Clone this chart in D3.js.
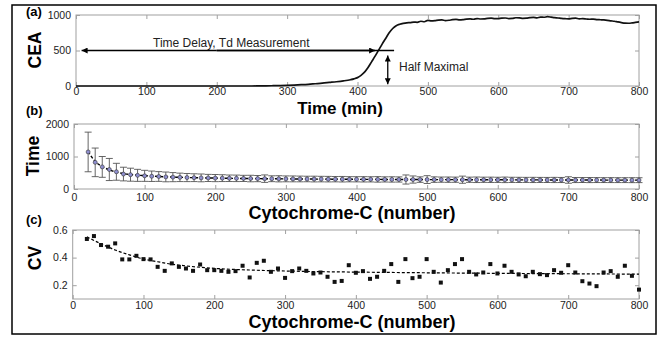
<!DOCTYPE html>
<html><head><meta charset="utf-8">
<script src="https://cdn.jsdelivr.net/npm/d3@7"></script>
<style>body{margin:0;background:#fff}svg{display:block}text{font-family:Arial,"Liberation Sans",sans-serif}</style>
</head><body><svg id="c" width="663" height="337"></svg>
<script>
// ---------- data ----------
const xTicks = [0,100,200,300,400,500,600,700,800];
const ceaYTicks = [0,500,1000];
const timeYTicks = [0,1000,2000];
const cvYTicks = [0.2,0.4,0.6];

const ceaTime = [0,10,20,30,40,50,60,70,80,90,100,110,120,130,140,150,160,170,180,190,200,210,220,230,240,250,260,270,280,290,300,310,320,330,340,350,360,370,380,390,395,400,405,410,415,420,425,430,435,440,445,450,455,
  460,465,470,475,480,485,490,495,500,505,510,515,520,525,530,535,540,545,550,555,560,565,570,575,580,585,590,595,600,605,610,615,620,625,630,635,640,645,650,655,660,665,670,675,680,685,690,695,700,705,710,715,720,725,730,735,740,745,750,755,760,765,770,775,780,785,790,795,800];
const ceaValue = [0,0,0,0,0,0,0,0,0,0,0,0,0,0,0,0,0,0,0,0,0,0,0,0,0,0,1,2,4,6,9,13,18,24,32,40,50,60,72,88,100,118,150,195,260,340,420,505,590,670,750,810,850,
  870,882,890,893,900,897,912,905,925,916,920,928,930,922,926,934,938,930,934,942,945,940,950,944,946,953,955,948,950,957,958,950,952,961,960,953,955,962,966,960,970,968,976,970,962,958,952,948,945,952,955,946,948,944,940,942,936,933,930,925,918,912,902,893,885,884,888,895,902];

const cytoX = [20,30,40,50,60,70,80,90,100,110,120,130,140,150,160,170,180,190,200,210,220,230,240,250,260,270,280,290,300,310,320,330,340,350,360,370,380,390,400,410,420,430,440,450,460,470,480,490,500,510,520,530,540,550,560,570,580,590,600,610,620,630,640,650,660,670,680,690,700,710,720,730,740,750,760,770,780,790,800];
const timeMean = [1140,820,680,600,530,460,440,420,405,392,385,372,365,358,352,348,342,340,336,334,330,328,326,322,320,318,316,314,312,311,309,308,306,305,303,302,301,300,299,298,297,296,295,294,293,292,291,290,290,289,288,287,286,286,285,284,284,283,282,282,281,280,280,279,279,278,278,277,277,276,276,275,275,274,274,273,273,272,272];
const timeSd = [610,440,320,340,260,210,200,185,170,160,150,150,140,130,125,120,120,110,110,105,100,100,95,100,95,115,90,95,90,90,88,85,88,85,85,82,85,80,80,82,80,85,80,82,80,140,110,85,120,85,80,82,80,110,80,85,80,82,80,85,80,80,78,80,78,78,80,78,100,78,76,78,76,75,76,75,75,76,75];
const timeFitX = [20,30,40,50,60,70,80,100,120,150,200,300,400,500,600,700,800];
const timeFit = [1150,850,690,590,520,475,445,410,385,360,335,312,298,290,283,277,272];

const cvValue = [0.535,0.556,0.491,0.479,0.503,0.387,0.387,0.413,0.389,0.387,0.333,0.304,0.358,0.333,0.321,0.304,0.350,0.309,0.309,0.304,0.297,0.302,0.341,0.256,0.362,0.377,0.297,0.321,0.253,0.302,0.321,0.304,0.285,0.292,0.261,0.224,0.231,0.345,0.290,0.302,0.246,0.261,0.304,0.353,0.224,0.389,0.251,0.261,0.389,0.297,0.219,0.309,0.353,0.389,0.297,0.278,0.292,0.353,0.285,0.341,0.297,0.278,0.265,0.297,0.280,0.273,0.309,0.290,0.345,0.292,0.229,0.212,0.193,0.292,0.302,0.261,0.341,0.268,0.168];
const cvFitX = [20,40,60,80,100,120,140,160,180,200,250,300,350,400,500,600,700,800];
const cvFit = [0.55,0.50,0.455,0.42,0.39,0.37,0.352,0.34,0.33,0.322,0.31,0.303,0.298,0.295,0.29,0.286,0.283,0.28];

// ---------- drawing ----------
const svg = d3.select("#c");
svg.append("rect").attr("x",12).attr("y",5).attr("width",644).attr("height",329)
  .attr("fill","none").attr("stroke","#000").attr("stroke-width",1.5);

const defs = svg.append("defs");
defs.append("marker").attr("id","ah").attr("viewBox","0 0 10 10").attr("refX",10).attr("refY",5)
  .attr("markerWidth",7).attr("markerHeight",6).attr("markerUnits","userSpaceOnUse").attr("orient","auto-start-reverse")
  .append("path").attr("d","M0,0L10,5L0,10Z").attr("fill","#000");

function panel(o){
  const x = d3.scaleLinear().domain([0,800]).range([o.x0,639]);
  const y = d3.scaleLinear().domain(o.yd).range([o.y0,o.y1]);
  const g = svg.append("g");
  g.append("rect").attr("x",o.x0).attr("y",o.y1).attr("width",639-o.x0).attr("height",o.y0-o.y1)
    .attr("fill","none").attr("stroke","#a0a0a0").attr("stroke-width",1);
  const style = sel => { sel.select(".domain").remove(); sel.selectAll("line").attr("stroke","#a0a0a0");
    sel.selectAll("text").attr("fill","#222").style("font-size","10.5px").style("font-family","Arial, 'Liberation Sans', sans-serif"); };
  g.append("g").attr("transform",`translate(0,${o.y0})`).call(d3.axisBottom(x).tickValues(xTicks).tickSize(-4).tickPadding(o.pad).tickFormat(d3.format("d"))).call(style);
  g.append("g").attr("transform",`translate(0,${o.y1})`).call(d3.axisTop(x).tickValues(xTicks).tickSize(-4).tickFormat("")).call(style);
  g.append("g").attr("transform",`translate(${o.x0},0)`).call(d3.axisLeft(y).tickValues(o.yt).tickSize(-4).tickPadding(5).tickFormat(o.fmt)).call(style);
  g.append("g").attr("transform",`translate(639,0)`).call(d3.axisRight(y).tickValues(o.yt).tickSize(-4).tickFormat("")).call(style);
  svg.append("text").attr("x",26).attr("y",o.lab[1]).attr("font-weight","bold").attr("font-size",13).text(o.lab[0]);
  svg.append("text").attr("transform",`translate(${o.yl[1]},${o.yl[2]}) rotate(-90)`).attr("text-anchor","middle")
    .attr("dy","0.36em").attr("font-weight","bold").attr("font-size",17.5).text(o.yl[0]);
  svg.append("text").attr("x",o.xl[1]).attr("y",o.xl[2]).attr("text-anchor","middle").attr("font-weight","bold")
    .attr("font-size",o.xl[3]).text(o.xl[0]);
  return {x,y,g};
}

// Panel (a)
const A = panel({x0:76,y0:86,y1:15,yd:[0,1000],yt:ceaYTicks,fmt:d3.format("d"),pad:2,
  lab:["(a)",16],yl:["CEA",35,50],xl:["Time (min)",340,114,17]});
A.g.append("path").datum(ceaTime.map((t,i)=>[t,ceaValue[i]]))
  .attr("d",d3.line().x(d=>A.x(d[0])).y(d=>A.y(d[1])).curve(d3.curveMonotoneX))
  .attr("fill","none").attr("stroke","#111").attr("stroke-width",1.7);
A.g.append("line").attr("x1",A.x(200)).attr("x2",A.x(452)).attr("y1",A.y(500)).attr("y2",A.y(500)).attr("stroke","#000").attr("stroke-width",1.3);
A.g.append("line").attr("x1",A.x(200)).attr("x2",A.x(8)).attr("y1",A.y(500)).attr("y2",A.y(500)).attr("stroke","#000").attr("stroke-width",1.3).attr("marker-end","url(#ah)");
A.g.append("line").attr("x1",A.x(200)).attr("x2",A.x(425)).attr("y1",A.y(500)).attr("y2",A.y(500)).attr("stroke","#000").attr("stroke-width",1.3).attr("marker-end","url(#ah)");
A.g.append("line").attr("x1",A.x(443)).attr("x2",A.x(443)).attr("y1",A.y(430)).attr("y2",A.y(25)).attr("stroke","#000").attr("stroke-width",1.3)
  .attr("marker-start","url(#ah)").attr("marker-end","url(#ah)");
svg.append("text").attr("x",153).attr("y",46.5).attr("font-size",12).attr("fill","#222").text("Time Delay, Td Measurement");
svg.append("text").attr("x",399).attr("y",70.5).attr("font-size",12).attr("fill","#222").text("Half Maximal");

// Panel (b)
const B = panel({x0:74,y0:189,y1:124,yd:[0,2000],yt:timeYTicks,fmt:d3.format("d"),pad:5,
  lab:["(b)",114.5],yl:["Time",33,156],xl:["Cytochrome-C (number)",352,219,18]});
const eb = B.g.append("g").attr("stroke","#555").attr("stroke-width",0.9);
cytoX.forEach((c,i)=>{
  const lo=B.y(timeMean[i]-timeSd[i]), hi=B.y(timeMean[i]+timeSd[i]), xc=B.x(c), w=3.5;
  eb.append("line").attr("x1",xc).attr("x2",xc).attr("y1",lo).attr("y2",hi);
  eb.append("line").attr("x1",xc-w).attr("x2",xc+w).attr("y1",lo).attr("y2",lo);
  eb.append("line").attr("x1",xc-w).attr("x2",xc+w).attr("y1",hi).attr("y2",hi);
});
B.g.append("path").datum(timeFitX.map((t,i)=>[t,timeFit[i]]))
  .attr("d",d3.line().x(d=>B.x(d[0])).y(d=>B.y(d[1])).curve(d3.curveMonotoneX))
  .attr("fill","none").attr("stroke","#000").attr("stroke-width",1.4).attr("stroke-dasharray","3,2");
B.g.selectAll("circle.m").data(cytoX).enter().append("circle").attr("class","m")
  .attr("cx",d=>B.x(d)).attr("cy",(d,i)=>B.y(timeMean[i])).attr("r",2)
  .attr("fill","#8f8fd0").attr("stroke","#333").attr("stroke-width",0.6);

// Panel (c)
const C = panel({x0:72.7,y0:299,y1:230,yd:[0.1,0.6],yt:cvYTicks,fmt:d3.format(".1f"),pad:3,
  lab:["(c)",223.5],yl:["CV",35,258],xl:["Cytochrome-C (number)",352,328,18]});
C.g.append("path").datum(cvFitX.map((t,i)=>[t,cvFit[i]]))
  .attr("d",d3.line().x(d=>C.x(d[0])).y(d=>C.y(d[1])).curve(d3.curveMonotoneX))
  .attr("fill","none").attr("stroke","#000").attr("stroke-width",1.2).attr("stroke-dasharray","3,2");
C.g.selectAll("rect.p").data(cytoX).enter().append("rect").attr("class","p")
  .attr("x",d=>C.x(d)-2).attr("y",(d,i)=>C.y(cvValue[i])-2).attr("width",4).attr("height",4).attr("fill","#111");
</script></body></html>
